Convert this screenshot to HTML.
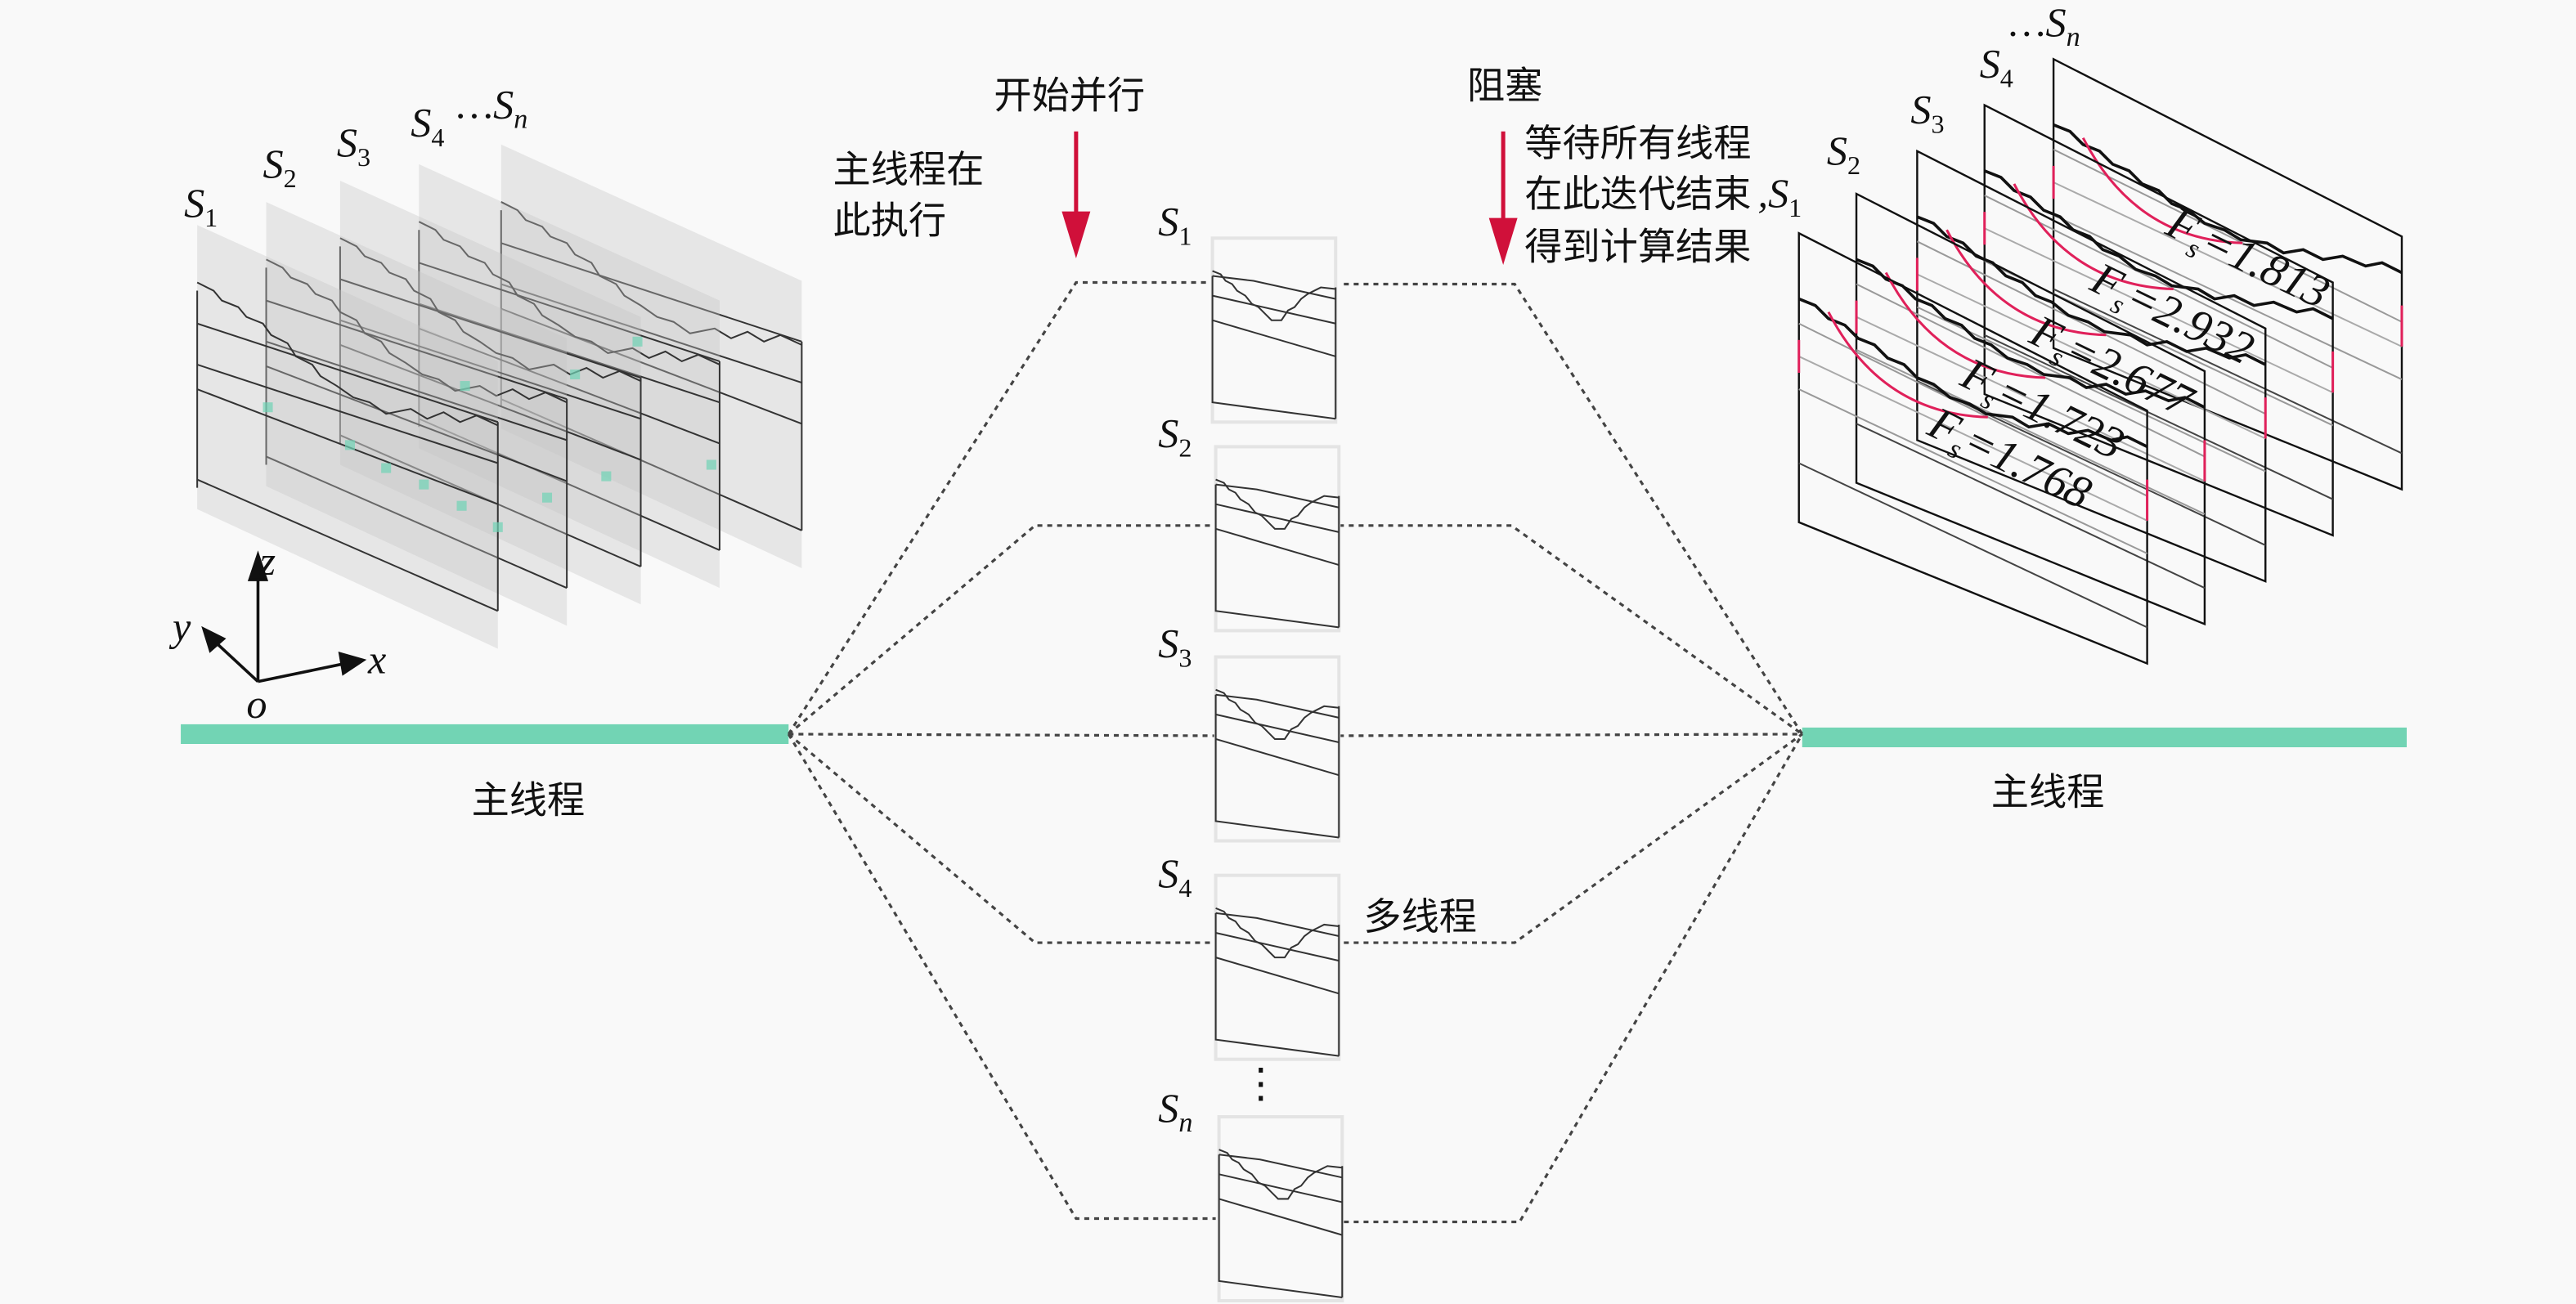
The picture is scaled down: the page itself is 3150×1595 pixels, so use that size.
<!DOCTYPE html>
<html><head><meta charset="utf-8"><style>
html,body{margin:0;padding:0;background:#f9f9f9;}
svg{display:block;}
.cn{font-family:"Liberation Sans","Noto Sans CJK SC",sans-serif;font-size:23px;fill:#111;}
.it{font-family:"Liberation Serif",serif;font-style:italic;font-size:25px;fill:#111;}
.fs{font-family:"Liberation Serif",serif;font-style:italic;font-size:28px;fill:#111;}
.sub{font-family:"Liberation Serif",serif;font-style:normal;font-size:16px;}
.subi{font-family:"Liberation Serif",serif;font-style:italic;font-size:17px;}
</style></head><body>
<svg width="3150" height="1595" viewBox="0 0 1568 794" xmlns="http://www.w3.org/2000/svg">
<defs>
<g id="lp">
<polygon points="0,0 183,83 183,258 0,173" fill="#c4c4c4" fill-opacity="0.36"/>
<g fill="none" stroke="#333" stroke-width="1">
<polyline points="0,35 10,40 15,46 25,50 30,56 40,60 45,67 55,72 60,80 70,85 75,92 85,98 95,105 105,108 115,115 130,112 140,118 150,114 160,120 170,116 183,122"/>
<line x1="0" y1="60" x2="183" y2="120"/>
<line x1="0" y1="85" x2="183" y2="145"/>
<line x1="0" y1="100" x2="183" y2="170"/>
<line x1="0" y1="155" x2="183" y2="235"/>
<line x1="0" y1="40" x2="0" y2="160"/>
<line x1="183" y1="120" x2="183" y2="235"/>
</g>
</g>
<g id="rp">
<polygon points="0,0 212,108 212,262 0,176" fill="none" stroke="#111" stroke-width="1.2"/>
<g fill="none">
<line x1="0" y1="55" x2="212" y2="160" stroke="#999" stroke-width="1"/>
<line x1="0" y1="75" x2="212" y2="175" stroke="#aaa" stroke-width="1"/>
<line x1="0" y1="95" x2="212" y2="195" stroke="#999" stroke-width="1"/>
<line x1="0" y1="140" x2="212" y2="240" stroke="#444" stroke-width="1"/>
<polyline points="0,40 10,44 18,52 28,56 36,64 46,68 54,76 64,80 72,88 82,92 92,100 104,104 114,110 130,112 140,118 152,116 164,122 176,120 190,126 200,124 212,130" stroke="#111" stroke-width="1.8"/>
<path d="M18,48 Q50,110 115,112" stroke="#e0205a" stroke-width="1.5"/>
<line x1="0" y1="65" x2="0" y2="85" stroke="#e0205a" stroke-width="1.5"/>
<line x1="212" y1="150" x2="212" y2="175" stroke="#e0205a" stroke-width="1.5"/>
</g>
</g>
<g id="cp">
<rect x="0" y="0" width="75" height="112" fill="none" stroke="#e4e4e4" stroke-width="2"/>
<g fill="none" stroke="#333" stroke-width="1">
<polyline points="0,20 5,22 8,26 12,28 15,32 20,35 24,40 28,42 32,46 36,50 42,50 46,44 50,42 54,37 58,34 62,32 66,30 75,31"/>
<polyline points="0,23 0,100 75,110" />
<polyline points="0,23 25,26 75,37"/>
<line x1="0" y1="35" x2="75" y2="52"/>
<line x1="0" y1="50" x2="75" y2="72"/>
<line x1="75" y1="30" x2="75" y2="110"/>
</g>
</g>
</defs>

<rect x="110" y="441" width="370" height="12" fill="#72d4b4"/>
<rect x="1097" y="443" width="368" height="12" fill="#72d4b4"/>
<text class="cn" x="287" y="495">主线程</text>
<text class="cn" x="1212" y="490">主线程</text>

<use href="#lp" x="305" y="88"/>
<use href="#lp" x="255" y="100"/>
<use href="#lp" x="207" y="110"/>
<use href="#lp" x="162" y="123"/>
<use href="#lp" x="120" y="137"/>
<g fill="#6fd3b5" fill-opacity="0.7">
<rect x="160" y="245" width="6" height="6"/><rect x="210" y="268" width="6" height="6"/><rect x="232" y="282" width="6" height="6"/><rect x="255" y="292" width="6" height="6"/><rect x="278" y="305" width="6" height="6"/><rect x="300" y="318" width="6" height="6"/><rect x="280" y="232" width="6" height="6"/><rect x="330" y="300" width="6" height="6"/><rect x="347" y="225" width="6" height="6"/><rect x="385" y="205" width="6" height="6"/><rect x="430" y="280" width="6" height="6"/><rect x="366" y="287" width="6" height="6"/>
</g>
<text class="it" x="112" y="132">S<tspan class="sub" dy="6">1</tspan></text>
<text class="it" x="160" y="108">S<tspan class="sub" dy="6">2</tspan></text>
<text class="it" x="205" y="95">S<tspan class="sub" dy="6">3</tspan></text>
<text class="it" x="250" y="83">S<tspan class="sub" dy="6">4</tspan></text>
<text class="it" x="278" y="72">…S<tspan class="subi" dy="6">n</tspan></text>

<g stroke="#111" stroke-width="1.8" fill="#111">
<line x1="157" y1="415" x2="157" y2="350"/><polygon points="157,338 152,353 162,353"/>
<line x1="157" y1="415" x2="210" y2="404"/><polygon points="221,402 207,398 209,410"/>
<line x1="157" y1="415" x2="130" y2="390"/><polygon points="124,383 128,396 136,389"/>
</g>
<text class="it" x="158" y="350">z</text>
<text class="it" x="224" y="410">x</text>
<text class="it" x="105" y="390">y</text>
<text class="it" x="150" y="437">o</text>

<g fill="none" stroke="#444" stroke-width="1.6" stroke-dasharray="3,3">
<polyline points="480,447 655,172 735,172"/>
<polyline points="480,447 630,320 740,320"/>
<polyline points="480,447 740,448"/>
<polyline points="480,447 630,574 740,574"/>
<polyline points="480,447 655,742 740,742"/>
<polyline points="818,173 922,173 1097,447"/>
<polyline points="815,320 920,320 1097,447"/>
<polyline points="815,448 1097,447"/>
<polyline points="818,574 922,574 1097,447"/>
<polyline points="818,744 925,744 1097,447"/>
</g>

<use href="#cp" x="738" y="145"/>
<use href="#cp" x="740" y="272"/>
<use href="#cp" x="740" y="400"/>
<use href="#cp" x="740" y="533"/>
<use href="#cp" x="742" y="680"/>
<text class="it" x="705" y="143">S<tspan class="sub" dy="6">1</tspan></text>
<text class="it" x="705" y="272">S<tspan class="sub" dy="6">2</tspan></text>
<text class="it" x="705" y="400">S<tspan class="sub" dy="6">3</tspan></text>
<text class="it" x="705" y="540">S<tspan class="sub" dy="6">4</tspan></text>
<text class="it" x="705" y="683">S<tspan class="subi" dy="6">n</tspan></text>
<text class="it" x="755" y="668" style="font-style:normal">⋮</text>
<text class="cn" x="830" y="566">多线程</text>

<g stroke="#d0103a" stroke-width="2.5" fill="#d0103a">
<line x1="655" y1="80" x2="655" y2="135"/><polygon points="648,130 662,130 655,153"/>
<line x1="915" y1="80" x2="915" y2="138"/><polygon points="908,134 922,134 915,157"/>
</g>
<text class="cn" x="605" y="66">开始并行</text>
<text class="cn" x="507" y="111">主线程在</text>
<text class="cn" x="507" y="142">此执行</text>
<text class="cn" x="893" y="60">阻塞</text>
<text class="cn" x="928" y="95">等待所有线程</text>
<text class="cn" x="928" y="126">在此迭代结束</text>
<text class="it" x="1070" y="126">,S<tspan class="sub" dy="6">1</tspan></text>
<text class="cn" x="928" y="158">得到计算结果</text>

<use href="#rp" x="1250" y="36"/>
<use href="#rp" x="1208" y="64"/>
<use href="#rp" x="1167" y="92"/>
<use href="#rp" x="1130" y="118"/>
<use href="#rp" x="1095" y="142"/>
<text class="it" x="1112" y="100">S<tspan class="sub" dy="6">2</tspan></text>
<text class="it" x="1163" y="75">S<tspan class="sub" dy="6">3</tspan></text>
<text class="it" x="1205" y="47">S<tspan class="sub" dy="6">4</tspan></text>
<text class="it" x="1223" y="22">…S<tspan class="subi" dy="6">n</tspan></text>
<text class="fs" transform="translate(1317,142) rotate(26)">F<tspan class="subi" dy="6">s</tspan><tspan dy="-6">=1.813</tspan></text>
<text class="fs" transform="translate(1271,176) rotate(26)">F<tspan class="subi" dy="6">s</tspan><tspan dy="-6">=2.932</tspan></text>
<text class="fs" transform="translate(1234,208) rotate(26)">F<tspan class="subi" dy="6">s</tspan><tspan dy="-6">=2.677</tspan></text>
<text class="fs" transform="translate(1192,234) rotate(26)">F<tspan class="subi" dy="6">s</tspan><tspan dy="-6">=1.723</tspan></text>
<text class="fs" transform="translate(1172,264) rotate(26)">F<tspan class="subi" dy="6">s</tspan><tspan dy="-6">=1.768</tspan></text>
</svg>
</body></html>
